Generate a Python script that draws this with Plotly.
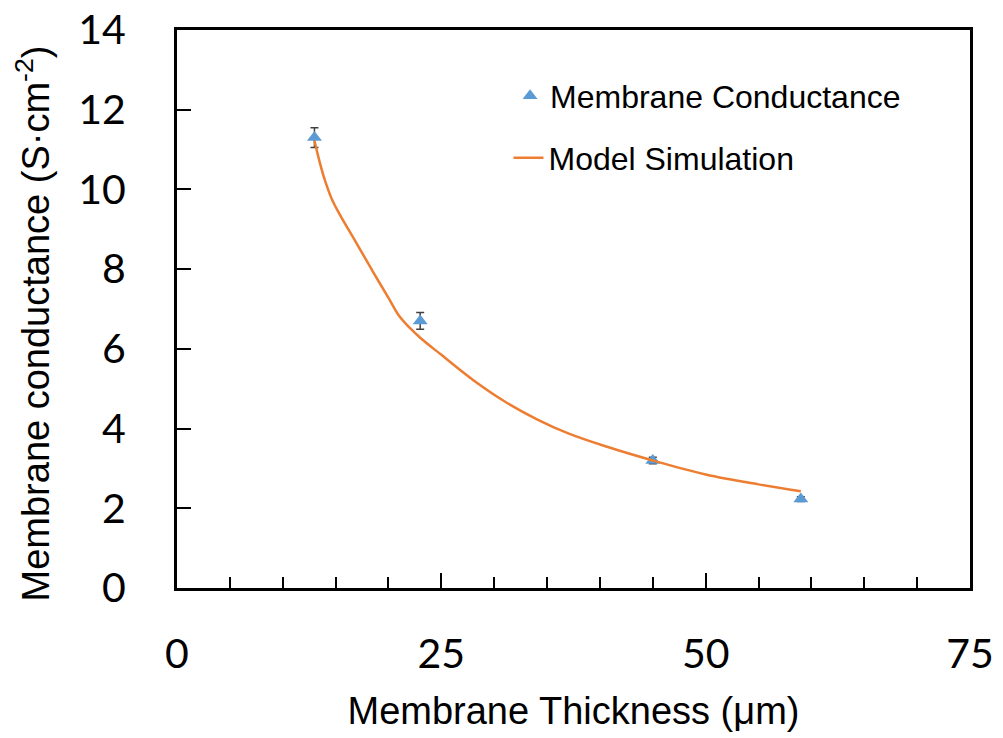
import plotly.graph_objects as go

# Measured membrane conductance vs. membrane thickness
thickness_um = [13, 23, 45, 59]
conductance = [11.3, 6.7, 3.2, 2.23]
conductance_err = [0.25, 0.21, 0.08, 0.06]

# Model simulation curve
model_thickness = [13, 13.5, 14, 14.7, 15.4, 17, 18.5, 20, 21, 22, 23, 25, 28, 31, 34, 37,
                   40.6, 45, 50, 55, 59]
model_conductance = [11.22, 10.68, 10.22, 9.72, 9.37, 8.64, 7.95, 7.28, 6.83, 6.53, 6.28, 5.85,
                     5.22, 4.68, 4.24, 3.88, 3.55, 3.2, 2.85, 2.6, 2.43]

x_ticks = [0, 25, 50, 75]
y_ticks = [0, 2, 4, 6, 8, 10, 12, 14]

fig = go.Figure()

fig.add_trace(go.Scatter(
    x=thickness_um, y=conductance,
    mode="markers", name="Membrane Conductance",
    marker=dict(symbol="triangle-up", size=13, color="#5B9BD5"),
    error_y=dict(type="data", array=conductance_err, color="#404040", thickness=1.5, width=4),
    legend="legend", showlegend=True,
))

fig.add_trace(go.Scatter(
    x=model_thickness, y=model_conductance,
    mode="lines", name="Model Simulation",
    line=dict(color="#ED7D31", width=2.5, shape="spline", smoothing=1.0),
    legend="legend2", showlegend=True,
))

tick_font = dict(family="Lato", size=41, color="black")
title_font = dict(family="Liberation Sans, Arial", size=38, color="black")
legend_font = dict(family="Liberation Sans, Arial", size=32, color="black")

fig.update_layout(
    width=1003, height=738,
    margin=dict(l=177, r=33, t=30, b=150),
    paper_bgcolor="white", plot_bgcolor="white",
    showlegend=True,
    legend=dict(x=0.42, y=0.8817, xanchor="left", yanchor="middle", visible=True,
                font=legend_font, bgcolor="rgba(0,0,0,0)", borderwidth=0),
    legend2=dict(x=0.418, y=0.7706, xanchor="left", yanchor="middle", visible=True,
                 font=legend_font, bgcolor="rgba(0,0,0,0)", borderwidth=0),
    annotations=[dict(
        text="Membrane conductance (S·cm<sup>-2</sup>)",
        xref="paper", yref="paper", x=-0.181, y=0.5, yshift=-14,
        xanchor="center", yanchor="middle", textangle=-90,
        showarrow=False, font=title_font,
    )],
)

fig.update_xaxes(
    range=[0, 75], tickvals=x_ticks, ticktext=[str(v) for v in x_ticks],
    ticks="inside", ticklen=15, tickwidth=1.5, tickcolor="black",
    minor=dict(dtick=5, ticks="inside", ticklen=11, tickwidth=1.5, tickcolor="black", showgrid=False),
    showline=True, linewidth=3, linecolor="black", mirror=True,
    showgrid=False, zeroline=False, automargin=False,
    tickfont=tick_font, ticklabelstandoff=28,
    title=dict(text="Membrane Thickness (μm)", font=title_font, standoff=22),
)

fig.update_yaxes(
    range=[0, 14], tickvals=y_ticks, ticktext=[str(v) for v in y_ticks],
    ticks="inside", ticklen=14, tickwidth=1.5, tickcolor="black",
    showline=True, linewidth=3, linecolor="black", mirror=True,
    showgrid=False, zeroline=False, automargin=False,
    tickfont=tick_font, ticklabelstandoff=40,
)

fig.write_html("out.html")
